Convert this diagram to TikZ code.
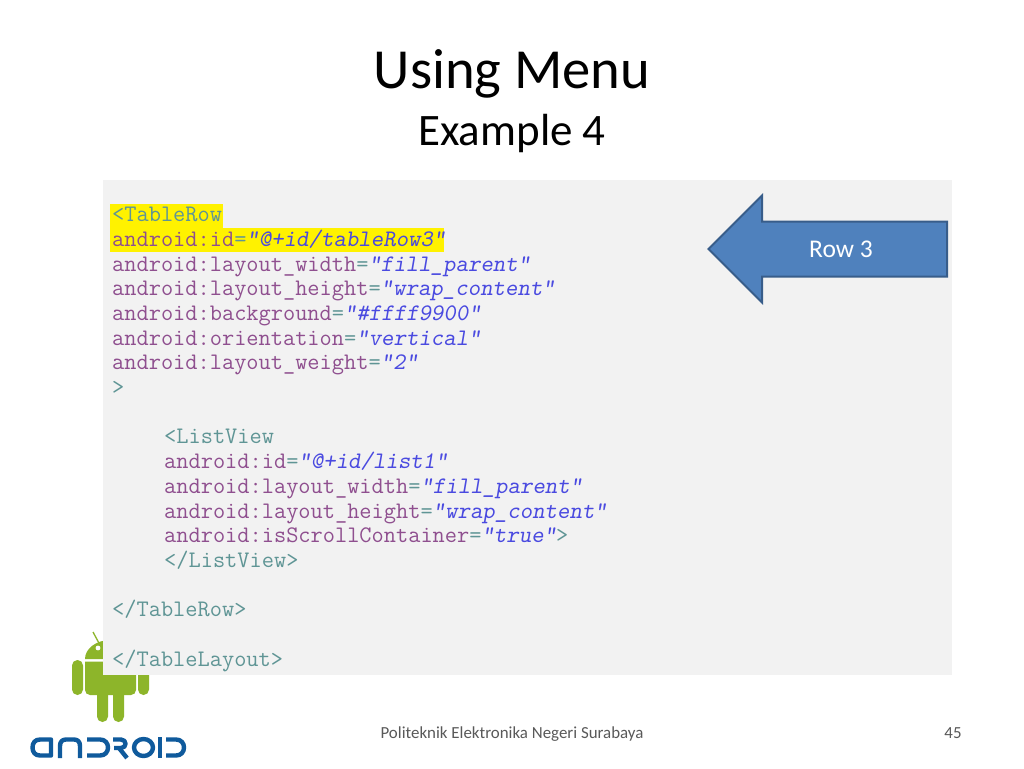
\documentclass[tikz,border=0pt]{standalone}
\usepackage{fontspec}
\setmainfont{Carlito}
\definecolor{tagc}{HTML}{5F9595}
\definecolor{attrc}{HTML}{8F4F8F}
\definecolor{valc}{HTML}{4A4AE0}
\definecolor{panel}{HTML}{F2F2F2}
\definecolor{robot}{HTML}{8DB52A}
\definecolor{logoblue}{HTML}{0F5A9C}
\definecolor{arrowfill}{HTML}{4F81BD}
\definecolor{arrowline}{HTML}{385D8A}
\newcommand{\codefont}{\fontsize{23.7}{24}\ttfamily}
\newcommand{\T}[1]{\textcolor{tagc}{#1}}
\newcommand{\A}[1]{\textcolor{attrc}{#1}}
\newcommand{\V}[1]{\textcolor{valc}{\slshape #1}}
\newcommand{\Q}{\textcolor{tagc}{=}}
\tikzset{
 codeline/.style={anchor=base west,inner sep=0pt,font=\codefont},
 logostroke/.style={draw=logoblue,line width=4.4pt,line join=round},
 footertext/.style={anchor=base,inner sep=0pt,text=black!65,font=\fontsize{16.9}{20}\selectfont},
}
\begin{document}
\begin{tikzpicture}[x=1pt,y=-1pt]
\useasboundingbox (0,0) rectangle (1024,768);
\fill[white] (0,0) rectangle (1024,768);
% robot
\fill[robot] (85,659) arc[start angle=180,end angle=360,x radius=25.5,y radius=19] -- cycle;
\draw[robot,line width=1.3pt] (93,632) -- (100,645);
\fill[robot] (85,661.5) -- (136,661.5) -- (136,690) arc[start angle=0,end angle=90,radius=5] -- (90,695) arc[start angle=90,end angle=180,radius=5] -- cycle;
\fill[robot,rounded corners=5.4pt] (72,660) rectangle (83,695);
\fill[robot,rounded corners=5.4pt] (138,660) rectangle (149,695);
\fill[robot,rounded corners=5.4pt] (97,685) rectangle (108,722);
\fill[robot,rounded corners=5.4pt] (113,685) rectangle (124,722);
\fill[white] (98,648) circle (2.4);
% wordmark
\draw[logostroke] (51,739.5) -- (40,739.5) .. controls (35,739.5) and (32.5,743) .. (32.5,747.5) .. controls (32.5,752) and (35,755.5) .. (40,755.5) -- (51,755.5) -- cycle;
\draw[logostroke] (60,758) -- (60,746) .. controls (60,742) and (62,739.5) .. (66,739.5) -- (74,739.5) .. controls (78,739.5) and (80,742) .. (80,746) -- (80,758);
\draw[logostroke] (87,739.5) -- (100,739.5) .. controls (105,739.5) and (108,743) .. (108,747.5) .. controls (108,752) and (105,755.5) .. (100,755.5) -- (87,755.5);
\draw[logostroke] (113,739.5) -- (121,739.5) .. controls (127,739.5) and (127,748) .. (121,748) -- (114,748);
\draw[logostroke] (119,748) -- (127,758);
\draw[logostroke] (143.5,747.5) ellipse [x radius=9.5,y radius=8.5];
\draw[logostroke] (160,737) -- (160,758);
\draw[logostroke] (166,739.5) -- (176,739.5) .. controls (181,739.5) and (184,743) .. (184,747.5) .. controls (184,752) and (181,755.5) .. (176,755.5) -- (166,755.5);
% panel
\fill[panel] (103,180) rectangle (952,675);
\fill[yellow] (110,204) rectangle (223,228);
\fill[yellow] (110,228) rectangle (444,252);
% title
\node[anchor=base,inner sep=0pt,font=\fontsize{56.6}{66}\selectfont] (title) at (512,88) {Using Menu};
\node[anchor=base,inner sep=0pt,font=\fontsize{45}{52}\selectfont] (sub) at (512,145) {Example 4};
% code
\node[codeline] (l1) at (112,221) {\T{<TableRow}};
\node[codeline] (l2) at (112,246) {\A{android:id}\Q\V{"@+id/tableRow3"}};
\node[codeline] (l3) at (112,271) {\A{android:layout\_width}\Q\V{"fill\_parent"}};
\node[codeline] (l4) at (112,295) {\A{android:layout\_height}\Q\V{"wrap\_content"}};
\node[codeline] (l5) at (112,320) {\A{android:background}\Q\V{"\#ffff9900"}};
\node[codeline] (l6) at (112,345) {\A{android:orientation}\Q\V{"vertical"}};
\node[codeline] (l7) at (112,369) {\A{android:layout\_weight}\Q\V{"2"}};
\node[codeline] (l8) at (112,394) {\T{>}};
\node[codeline] (l9) at (164,443) {\T{<ListView}};
\node[codeline] (l10) at (164,468) {\A{android:id}\Q\V{"@+id/list1"}};
\node[codeline] (l11) at (164,493) {\A{android:layout\_width}\Q\V{"fill\_parent"}};
\node[codeline] (l12) at (164,518) {\A{android:layout\_height}\Q\V{"wrap\_content"}};
\node[codeline] (l13) at (164,542) {\A{android:isScrollContainer}\Q\V{"true"}\T{>}};
\node[codeline] (l14) at (164,567) {\T{</ListView>}};
\node[codeline] (l15) at (112,616) {\T{</TableRow>}};
\node[codeline] (l16) at (112,666) {\T{</TableLayout>}};
% arrow
\draw[fill=arrowfill,draw=arrowline,line width=2pt,line join=miter] (708.5,249) -- (762,195.5) -- (762,221.5) -- (947,221.5) -- (947,276.5) -- (762,276.5) -- (762,302.5) -- cycle;
\node[text=white,inner sep=0pt,font=\fontsize{25.5}{30}\selectfont] (row) at (841,249) {Row 3};
% footer
\node[footertext] (foot) at (512,738) {Politeknik Elektronika Negeri Surabaya};
\node[footertext] (page) at (953,738) {45};
\end{tikzpicture}
\end{document}
